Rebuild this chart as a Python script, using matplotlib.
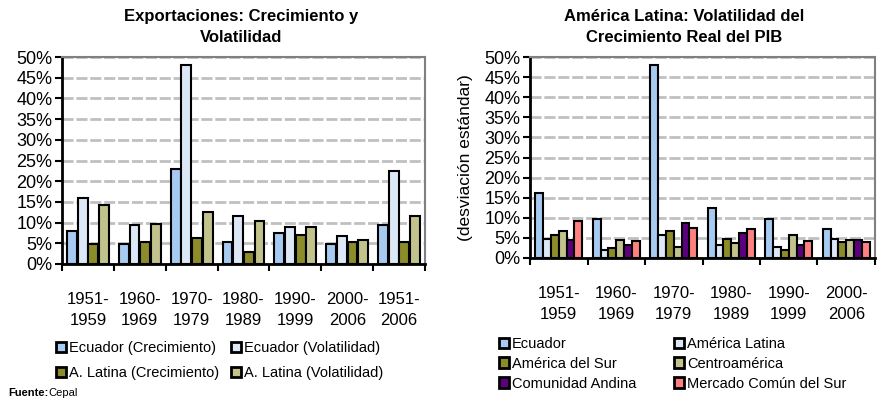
import matplotlib
matplotlib.use('Agg')
import matplotlib.pyplot as plt
import numpy as np
from matplotlib.patches import Patch
from matplotlib.ticker import PercentFormatter, FixedLocator

plt.rcParams['font.family'] = ['Liberation Sans Narrow', 'Liberation Sans', 'DejaVu Sans']

# datos: exportaciones (izquierda)
periodos_exp = ['1951-\n1959', '1960-\n1969', '1970-\n1979', '1980-\n1989',
                '1990-\n1999', '2000-\n2006', '1951-\n2006']
ecu_crec = [8.0, 4.8, 23.0, 5.2, 7.4, 4.8, 9.3]
ecu_vol = [16.0, 9.3, 48.0, 11.7, 8.9, 6.8, 22.5]
al_crec = [4.8, 5.2, 6.2, 2.9, 7.0, 5.4, 5.2]
al_vol = [14.2, 9.7, 12.5, 10.5, 8.9, 5.8, 11.7]
series_exp = ['Ecuador (Crecimiento)', 'Ecuador (Volatilidad)',
              'A. Latina (Crecimiento)', 'A. Latina (Volatilidad)']

# datos: volatilidad PIB (derecha)
periodos_pib = ['1951-\n1959', '1960-\n1969', '1970-\n1979', '1980-\n1989',
                '1990-\n1999', '2000-\n2006']
ecuador = [16.25, 9.6, 48.0, 12.5, 9.6, 7.1]
america_latina = [4.8, 2.1, 5.7, 3.2, 2.7, 4.8]
america_sur = [5.8, 2.5, 6.7, 4.8, 2.1, 3.9]
centroamerica = [6.7, 4.4, 2.7, 3.75, 5.8, 4.4]
comunidad_andina = [4.6, 3.2, 8.75, 6.25, 3.3, 4.6]
mercosur = [9.2, 4.2, 7.5, 7.1, 4.2, 4.0]
series_pib = ['Ecuador', 'América Latina', 'América del Sur', 'Centroamérica',
              'Comunidad Andina', 'Mercado Común del Sur']

col_exp = ['#a6caf0', '#dde8f6', '#8c8c2a', '#c2c28c']
col_pib = ['#a6caf0', '#dde8f6', '#8c8c2a', '#c2c28c', '#5c0080', '#ff8080']

fig = plt.figure(figsize=(8.94, 4.04), dpi=100)
ax1 = fig.add_axes([62/894, 1-264/404, (425-62)/894, (264-57)/404])
ax2 = fig.add_axes([530/894, 1-258/404, (875-530)/894, (258-57)/404])


def estilo(ax, n):
    ax.set_ylim(0, 50)
    ax.set_xlim(-0.5, n - 0.5)
    ax.yaxis.set_major_locator(FixedLocator(np.arange(0, 51, 5)))
    ax.yaxis.set_major_formatter(PercentFormatter(decimals=0))
    ax.yaxis.grid(True, color='#c0c0c0', linewidth=2, linestyle=(0, (4, 1)))
    ax.set_axisbelow(True)
    for s in ['top', 'right']:
        ax.spines[s].set_color('#808080')
        ax.spines[s].set_linewidth(1.5)
    for s in ['left', 'bottom']:
        ax.spines[s].set_color('black')
        ax.spines[s].set_linewidth(2)
    ax.set_xticks(np.arange(n + 1) - 0.5)
    ax.set_xticklabels([])
    ax.set_xticks(np.arange(n), minor=True)
    ax.tick_params(axis='x', which='major', length=5, width=1.5, direction='out')
    ax.tick_params(axis='x', which='minor', length=0, pad=20, labelsize=12)
    ax.tick_params(axis='y', length=5, width=1.5, labelsize=13, pad=2)


def fila(items, ncol=2):
    # matplotlib llena por columnas; reordenar para que se lea por filas
    return [items[r * ncol + c] for c in range(ncol)
            for r in range(len(items) // ncol)]


# izquierda
x = np.arange(len(periodos_exp))
w = 0.19
for i, vals in enumerate([ecu_crec, ecu_vol, al_crec, al_vol]):
    ax1.bar(x + (i - 1.5) * w * 1.08, vals, w, color=col_exp[i],
            edgecolor='black', linewidth=1.5, label=series_exp[i])
estilo(ax1, len(periodos_exp))
ax1.set_xticklabels(periodos_exp, minor=True, linespacing=1.5)

# derecha
x2 = np.arange(len(periodos_pib))
w2 = 0.135
for i, vals in enumerate([ecuador, america_latina, america_sur, centroamerica,
                          comunidad_andina, mercosur]):
    ax2.bar(x2 + (i - 2.5) * w2, vals, w2, color=col_pib[i],
            edgecolor='black', linewidth=1.5, label=series_pib[i])
estilo(ax2, len(periodos_pib))
ax2.set_xticklabels(periodos_pib, minor=True, linespacing=1.5)
ax2.set_ylabel('(desviación estándar)', fontsize=12.5, labelpad=8)

# titulos
fig.text(241/894, 1-27/404, 'Exportaciones: Crecimiento y\nVolatilidad',
         ha='center', va='center', fontsize=12, fontweight='bold',
         family=['Liberation Sans', 'DejaVu Sans'], linespacing=1.45)
fig.text(684/894, 1-27/404, 'América Latina: Volatilidad del\nCrecimiento Real del PIB',
         ha='center', va='center', fontsize=12, fontweight='bold',
         family=['Liberation Sans', 'DejaVu Sans'], linespacing=1.45)

# leyendas
h1 = [Patch(facecolor=c, edgecolor='black', linewidth=2) for c in col_exp]
fig.legend(fila(h1), fila(series_exp), loc='upper left',
           bbox_to_anchor=(50/894, 1-335/404),
           ncol=2, frameon=False, fontsize=10.5, handlelength=0.7, handleheight=0.7,
           handletextpad=0.2, columnspacing=0.8, labelspacing=0.75, borderaxespad=0)
h2 = [Patch(facecolor=c, edgecolor='black', linewidth=2) for c in col_pib]
fig.legend(fila(h2), fila(series_pib), loc='upper left',
           bbox_to_anchor=(493/894, 1-331/404),
           ncol=2, frameon=False, fontsize=10.5, handlelength=0.7, handleheight=0.7,
           handletextpad=0.2, columnspacing=2.6, labelspacing=0.4, borderaxespad=0)

fig.text(8/894, 1-393/404, 'Fuente:', fontsize=8, fontweight='bold', va='center')
fig.text(48/894, 1-393/404, 'Cepal', fontsize=8, va='center')

fig.savefig('out.png', dpi=100)
